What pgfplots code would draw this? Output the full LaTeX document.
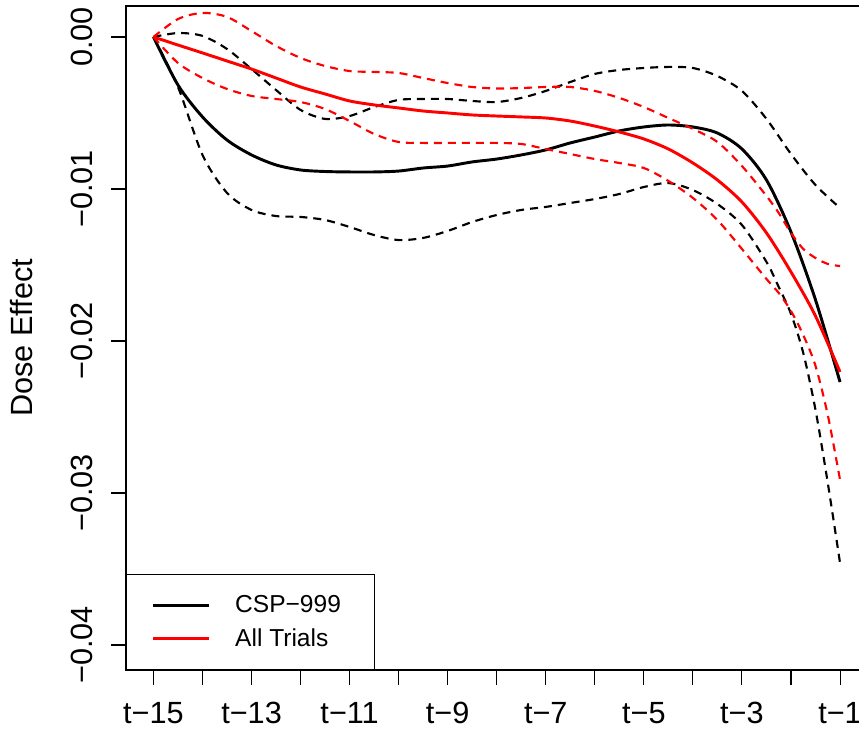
\documentclass[border=0pt]{standalone}
\usepackage{pgfplots}
\pgfplotsset{compat=1.18}
\usepackage{fontspec}
\setmainfont{Liberation Sans}
\begin{document}
\begin{tikzpicture}
\begin{axis}[
  at={(0,0)}, anchor=south west,
  scale only axis, width=556.125pt, height=498pt,
  xmin=-0.56, xmax=14.56, ymin=-0.041645, ymax=0.0020395,
  axis line style={line width=0.8pt, black},
  xtick={0,...,14},
  xticklabels={t−15,,t−13,,t−11,,t−9,,t−7,,t−5,,t−3,,t−1},
  ytick={-0.04,-0.03,-0.02,-0.01,0},
  yticklabels={−0.04,−0.03,−0.02,−0.01,0.00},
  scaled y ticks=false,
  tick align=outside, xtick pos=bottom, ytick pos=left,
  major tick length=11.25pt,
  tick style={line width=0.8pt, black},
  ticklabel style={font=\fontsize{23}{27}\selectfont},
  xticklabel style={anchor=north, inner sep=0pt, yshift=-12.75pt},
  yticklabel style={rotate=90, anchor=south, inner sep=0pt, yshift=13.5pt},
  ylabel={Dose Effect},
  every axis y label/.style={at={(axis description cs:-0.1403,0.5)}, rotate=90, anchor=center, font=\fontsize{23}{27}\selectfont},
  legend style={at={(0,0)}, anchor=south west, draw=black, line width=0.8pt, fill=white,
    inner xsep=0pt, inner ysep=11pt, row sep=0pt, column sep=0pt,
    nodes={inner sep=0pt}, font=\fontsize{18.4}{22}\selectfont},
  legend cell align=left,
  legend image code/.code={\path[draw=none,fill=none] (-20pt,-12.375pt) rectangle (61.5pt,12.375pt); \draw[#1] (0pt,0pt) -- (42pt,0pt);},
  clip=true,
]
% CSP-999 estimate
\addplot[black, line width=2.2pt, smooth] coordinates {
(0,0) (0.5,-0.00316) (1,-0.00526) (1.5,-0.00678) (2,-0.00776) (2.5,-0.00842) (3,-0.00875) (3.5,-0.00885)
(4,-0.00888) (4.5,-0.00888) (5,-0.00882) (5.5,-0.00862) (6,-0.00849) (6.5,-0.00822) (7,-0.00803)
(7.5,-0.00776) (8,-0.00743) (8.5,-0.00697) (9,-0.00658) (9.5,-0.00618) (10,-0.00592) (10.5,-0.00579)
(11,-0.00592) (11.5,-0.00632) (12,-0.00737) (12.5,-0.00941) (13,-0.01283) (13.5,-0.01730) (14,-0.02270)};
\addlegendentry{CSP−999\hspace*{25pt}}
% CSP-999 upper
\addplot[black, line width=1.6pt, dash pattern=on 6pt off 4.5pt, smooth, forget plot] coordinates {
(0,0) (0.5,0.00026) (1,0.00007) (1.5,-0.00079) (2,-0.00211) (2.5,-0.00349) (3,-0.00480) (3.5,-0.00539)
(4,-0.00520) (4.5,-0.00461) (5,-0.00414) (5.5,-0.00408) (6,-0.00408) (6.5,-0.00421) (7,-0.00428)
(7.5,-0.00401) (8,-0.00355) (8.5,-0.00296) (9,-0.00243) (9.5,-0.00217) (10,-0.00204) (10.5,-0.00197)
(11,-0.00204) (11.5,-0.00257) (12,-0.00355) (12.5,-0.00539) (13,-0.00770) (13.5,-0.00974) (14,-0.01125)};
% CSP-999 lower
\addplot[black, line width=1.6pt, dash pattern=on 6pt off 4.5pt, smooth, forget plot] coordinates {
(0,0) (0.5,-0.00329) (1,-0.00776) (1.5,-0.01026) (2,-0.01138) (2.5,-0.01178) (3,-0.01184) (3.5,-0.01204)
(4,-0.01250) (4.5,-0.01303) (5,-0.01336) (5.5,-0.01322) (6,-0.01276) (6.5,-0.01217) (7,-0.01171)
(7.5,-0.01138) (8,-0.01118) (8.5,-0.01092) (9,-0.01066) (9.5,-0.01033) (10,-0.00987) (10.5,-0.00961)
(11,-0.01007) (11.5,-0.01099) (12,-0.01237) (12.5,-0.01480) (12.75,-0.01645) (13,-0.01822)
(13.25,-0.02079) (13.5,-0.02454) (13.75,-0.02934) (14,-0.03461)};
% All trials estimate
\addplot[red, line width=2.2pt, smooth] coordinates {
(0,0) (0.5,-0.00053) (1,-0.00105) (1.5,-0.00158) (2,-0.00211) (2.5,-0.00270) (3,-0.00329) (3.5,-0.00375)
(4,-0.00421) (4.5,-0.00447) (5,-0.00467) (5.5,-0.00487) (6,-0.00500) (6.5,-0.00513) (7,-0.00520)
(7.5,-0.00526) (8,-0.00533) (8.5,-0.00553) (9,-0.00586) (9.5,-0.00625) (10,-0.00671) (10.5,-0.00737)
(11,-0.00829) (11.5,-0.00941) (12,-0.01086) (12.5,-0.01289) (13,-0.01546) (13.5,-0.01836) (14,-0.02204)};
\addlegendentry{All Trials}
% All trials upper
\addplot[red, line width=1.6pt, dash pattern=on 6pt off 4.5pt, smooth, forget plot] coordinates {
(0,0) (0.5,0.00118) (1,0.00158) (1.5,0.00132) (2,0.00039) (2.5,-0.00059) (3,-0.00138) (3.5,-0.00191)
(4,-0.00224) (4.5,-0.00230) (5,-0.00237) (5.5,-0.00270) (6,-0.00303) (6.5,-0.00329) (7,-0.00339)
(7.5,-0.00336) (8,-0.00329) (8.5,-0.00329) (9,-0.00355) (9.5,-0.00401) (10,-0.00461) (10.5,-0.00533)
(11,-0.00605) (11.5,-0.00691) (12,-0.00849) (12.5,-0.01046) (12.75,-0.01158) (13,-0.01289)
(13.25,-0.01395) (13.5,-0.01454) (13.75,-0.01493) (14,-0.01507)};
% All trials lower
\addplot[red, line width=1.6pt, dash pattern=on 6pt off 4.5pt, smooth, forget plot] coordinates {
(0,0) (0.5,-0.00171) (1,-0.00270) (1.5,-0.00342) (2,-0.00388) (2.5,-0.00408) (3,-0.00428) (3.5,-0.00474)
(4,-0.00553) (4.5,-0.00638) (5,-0.00691) (5.5,-0.00697) (6,-0.00697) (6.5,-0.00697) (7,-0.00697)
(7.5,-0.00704) (8,-0.00737) (8.5,-0.00770) (9,-0.00803) (9.5,-0.00829) (10,-0.00862) (10.5,-0.00947)
(11,-0.01059) (11.5,-0.01204) (12,-0.01395) (12.5,-0.01592) (12.75,-0.01684) (13,-0.01803)
(13.25,-0.01961) (13.5,-0.02164) (13.75,-0.02487) (14,-0.02914)};
\end{axis}
\pgfresetboundingbox
\path[use as bounding box] (-94.5pt,-45pt) rectangle (549.75pt,502.5pt);
\end{tikzpicture}
\end{document}
